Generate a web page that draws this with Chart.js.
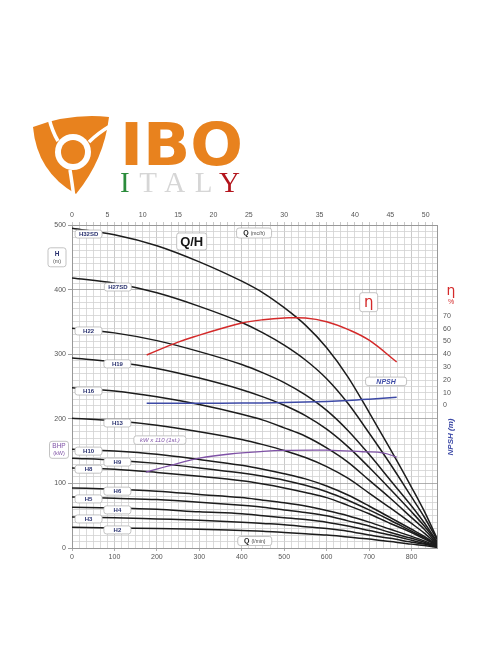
<!DOCTYPE html>
<html>
<head>
<meta charset="utf-8">
<script src="https://cdn.jsdelivr.net/npm/chart.js@4.4.1/dist/chart.umd.min.js"></script>
<style>
html, body { margin: 0; padding: 0; background: #fff; }
#wrap { position: relative; width: 496px; height: 664px; }
#pumpChart, #logo { position: absolute; left: 0; top: 0; }
</style>
</head>
<body>
<div id="wrap">
<canvas id="pumpChart" width="496" height="664"></canvas>
<svg id="logo" width="496" height="205" xmlns="http://www.w3.org/2000/svg">
  <!-- swirl mark -->
  <path d="M33,127 Q70,113 109,117 Q104,160 76,194 Q37,172 33,127 Z" fill="#e8821e"/>
  <circle cx="73" cy="152" r="18" fill="#fff"/>
  <circle cx="73" cy="152" r="12" fill="#e8821e"/>
  <path d="M58,141 Q52,131 49,118" stroke="#fff" stroke-width="3.5" fill="none"/>
  <path d="M89,142 Q98,133 110,126" stroke="#fff" stroke-width="3.5" fill="none"/>
  <path d="M70,170 Q72,182 74,198" stroke="#fff" stroke-width="3.5" fill="none"/>
  <text x="120" y="165" font-family="'DejaVu Sans Condensed','DejaVu Sans',sans-serif" font-weight="bold" font-size="58" fill="#e8821e" textLength="123" lengthAdjust="spacingAndGlyphs">IBO</text>
  <text x="120" y="192" font-family="'Liberation Serif',serif" font-size="29" textLength="120" lengthAdjust="spacing"><tspan fill="#2b8c3c">I</tspan><tspan fill="#d6d6d6">TAL</tspan><tspan fill="#b3141c">Y</tspan></text>
</svg>
</div>
<script>
const flowLpm = [0, 100, 200, 300, 400, 450, 500, 550, 600, 650, 700, 750, 800, 830, 860];

const models = ['H32SD', 'H27SD', 'H22', 'H19', 'H16', 'H13', 'H10', 'H9', 'H8', 'H6', 'H5', 'H4', 'H3', 'H2'];
const headH32SD = [495, 485, 468, 443, 413, 395, 372, 345, 310, 265, 210, 153, 94, 57, 15];
const headH27SD = [418, 410, 395, 374, 349, 333, 314, 291, 262, 224, 178, 130, 79, 48, 13];
const headH22   = [340, 333, 321, 304, 284, 271, 256, 237, 213, 182, 145, 105, 65, 39, 10];
const headH19   = [294, 288, 278, 263, 245, 234, 221, 205, 184, 157, 125, 91, 56, 34, 9];
const headH16   = [248, 243, 234, 222, 207, 198, 186, 173, 155, 133, 105, 77, 47, 29, 7];
const headH13   = [201, 197, 190, 180, 168, 160, 151, 140, 126, 108, 85, 62, 38, 23, 6];
const headH10   = [153, 150, 145, 137, 128, 122, 115, 107, 96, 82, 65, 47, 29, 18, 5];
const headH9    = [139, 136, 131, 124, 116, 111, 105, 97, 87, 74, 59, 43, 26, 16, 4];
const headH8    = [124, 122, 117, 111, 104, 99, 93, 86, 78, 66, 53, 38, 24, 14, 4];
const headH6    = [93, 91, 88, 83, 78, 74, 70, 65, 58, 50, 40, 29, 18, 11, 3];
const headH5    = [79, 77, 75, 71, 66, 63, 59, 55, 50, 42, 34, 24, 15, 9, 2];
const headH4    = [63, 62, 60, 56, 53, 50, 47, 44, 40, 34, 27, 20, 12, 7, 2];
const headH3    = [48, 47, 45, 43, 40, 38, 36, 33, 30, 26, 20, 15, 9, 6, 1];
const headH2    = [32, 31, 30, 29, 27, 26, 24, 22, 20, 17, 14, 10, 6, 4, 1];
const heads = [headH32SD, headH27SD, headH22, headH19, headH16, headH13, headH10,
               headH9, headH8, headH6, headH5, headH4, headH3, headH2];

// efficiency %, right scale
const effFlow = [176, 250, 300, 350, 400, 450, 500, 550, 600, 650, 700, 765];
const effPct  = [39.5, 49.5, 55, 60, 64.5, 67, 68.3, 68.4, 65.5, 59.5, 51, 34];

// NPSH (m), right scale
const npshFlow = [176, 300, 400, 500, 600, 650, 700, 765];
const npshM    = [1.8, 1.8, 1.9, 2.3, 3.2, 3.9, 4.9, 6.4];

// power, kW x 110 (1st.), drawn on the head scale
const bhpFlow  = [174, 250, 300, 372, 450, 500, 600, 685, 735, 765];
const bhpKw110 = [117.6, 131, 139, 145.5, 149.5, 151, 151.5, 149, 147, 140.5];

// where the model tags sit [Q l/min, H m]
const tagSpots = [[39, 486], [108, 404], [39, 336], [107, 285], [39, 243], [107, 193.5], [39, 150],
                  [107, 133], [39, 122], [107, 88], [39, 76], [107, 59], [39, 45], [107, 28]];

const FONT = '"Liberation Sans", Arial, sans-serif';
const NAVY = '#2a3270', RED = '#d42a2a', BLUE = '#3d4aa6', PURPLE = '#7f52a6';

function pts(xs, ys) {
    return xs.map((q, i) => ({ x: q, y: ys[i] }));
}

function box(ctx, cx, cy, w, h) {
    ctx.beginPath();
    ctx.roundRect(cx - w / 2, cy - h / 2, w, h, 2.5);
    ctx.fillStyle = '#fff';
    ctx.fill();
    ctx.strokeStyle = '#b4b4b4';
    ctx.lineWidth = 0.8;
    ctx.stroke();
}

function runs(ctx, cx, cy, parts) {
    let total = 0;
    parts.forEach(p => { ctx.font = p.f; total += ctx.measureText(p.t).width; });
    let x = cx - total / 2;
    ctx.textAlign = 'left';
    ctx.textBaseline = 'middle';
    parts.forEach(p => {
        ctx.font = p.f;
        ctx.fillStyle = p.c;
        ctx.fillText(p.t, x, cy);
        x += ctx.measureText(p.t).width;
    });
}

const tagPlugin = {
    id: 'tags',
    afterDatasetsDraw(chart) {
        const { ctx, chartArea, scales } = chart;
        const { x, y, y2 } = scales;
        ctx.save();

        models.forEach((name, i) => {
            const cx = x.getPixelForValue(tagSpots[i][0]);
            const cy = y.getPixelForValue(tagSpots[i][1]);
            box(ctx, cx, cy, 27, 8);
            runs(ctx, cx, cy + 0.3, [{ t: name, f: 'bold 6px ' + FONT, c: NAVY }]);
        });

        let cx = x.getPixelForValue(282), cy = y.getPixelForValue(474.5);
        box(ctx, cx, cy, 30, 17);
        runs(ctx, cx, cy + 0.5, [{ t: 'Q/H', f: 'bold 13px ' + FONT, c: '#151515' }]);

        cx = x.getPixelForValue(429); cy = y.getPixelForValue(487.6);
        box(ctx, cx, cy, 35, 10);
        runs(ctx, cx, cy + 0.3, [{ t: 'Q ', f: 'bold 7px ' + FONT, c: '#222' }, { t: '(mc/h)', f: '5px ' + FONT, c: '#444' }]);

        cx = x.getPixelForValue(699); cy = y.getPixelForValue(380.5);
        box(ctx, cx, cy, 18, 19);
        runs(ctx, cx, cy + 1, [{ t: 'η', f: '15px "DejaVu Sans", sans-serif', c: RED }]);

        cx = x.getPixelForValue(740); cy = y.getPixelForValue(258);
        box(ctx, cx, cy, 41, 8.5);
        runs(ctx, cx, cy + 0.3, [{ t: 'NPSH', f: 'italic bold 7px ' + FONT, c: BLUE }]);

        cx = x.getPixelForValue(207); cy = y.getPixelForValue(167);
        box(ctx, cx, cy, 52, 8.5);
        runs(ctx, cx, cy + 0.3, [{ t: 'kW x 110 (1st.)', f: 'italic 6px ' + FONT, c: PURPLE }]);

        cx = x.getPixelForValue(430.6); cy = y.getPixelForValue(10.8);
        box(ctx, cx, cy, 34, 9);
        runs(ctx, cx, cy + 0.3, [{ t: 'Q ', f: 'bold 7px ' + FONT, c: '#222' }, { t: '(l/min)', f: '5px ' + FONT, c: '#444' }]);

        // left side axis captions
        cx = chartArea.left - 15; cy = y.getPixelForValue(450);
        box(ctx, cx, cy, 18, 19);
        runs(ctx, cx, cy - 3.5, [{ t: 'H', f: 'bold 6.5px ' + FONT, c: NAVY }]);
        runs(ctx, cx, cy + 4, [{ t: '(m)', f: '5.5px ' + FONT, c: '#555' }]);

        cx = chartArea.left - 13; cy = y.getPixelForValue(152);
        box(ctx, cx, cy, 19, 17);
        runs(ctx, cx, cy - 3.3, [{ t: 'BHP', f: '6.5px ' + FONT, c: PURPLE }]);
        runs(ctx, cx, cy + 3.8, [{ t: '(kW)', f: '5.5px ' + FONT, c: PURPLE }]);

        // right side captions
        cx = chartArea.right + 14;
        runs(ctx, cx, y2.getPixelForValue(89), [{ t: 'η', f: '14px "DejaVu Sans", sans-serif', c: RED }]);
        runs(ctx, cx, y2.getPixelForValue(81), [{ t: '%', f: '7px ' + FONT, c: RED }]);
        ctx.translate(cx, y2.getPixelForValue(-24.6));
        ctx.rotate(-Math.PI / 2);
        runs(ctx, 0, 0, [{ t: 'NPSH (m)', f: 'italic bold 8px ' + FONT, c: BLUE }]);

        ctx.restore();
    }
};

const tickFont = { family: FONT, size: 7 };
const curveSets = models.map((name, i) => ({
    label: name,
    data: pts(flowLpm, heads[i]),
    borderColor: '#1c1c1c',
    borderWidth: 1.5,
    cubicInterpolationMode: 'monotone',
    xAxisID: 'x',
    yAxisID: 'y'
}));

new Chart(document.getElementById('pumpChart'), {
    type: 'line',
    data: {
        datasets: [
            { label: 'η', data: pts(effFlow, effPct), borderColor: RED, borderWidth: 1.5, tension: 0.4, xAxisID: 'x', yAxisID: 'y2' },
            { label: 'NPSH', data: pts(npshFlow, npshM), borderColor: BLUE, borderWidth: 1.5, tension: 0.4, xAxisID: 'x', yAxisID: 'y2' },
            { label: 'BHP', data: pts(bhpFlow, bhpKw110), borderColor: PURPLE, borderWidth: 1.3, tension: 0.4, xAxisID: 'x', yAxisID: 'y' },
            ...curveSets
        ]
    },
    options: {
        responsive: false,
        animation: false,
        events: [],
        layout: { padding: 0 },
        elements: { point: { radius: 0 } },
        plugins: { legend: { display: false }, tooltip: { enabled: false } },
        scales: {
            x: {
                type: 'linear', position: 'bottom', min: 0, max: 860,
                afterFit: s => { s.height = 116; },
                ticks: { stepSize: 100, includeBounds: false, maxRotation: 0, padding: 2, color: '#555', font: tickFont },
                grid: { color: '#9c9c9c', lineWidth: 0.8, tickLength: 3, tickColor: '#999' },
                border: { color: '#999' }
            },
            x2: {
                type: 'linear', position: 'top', min: 0, max: 860 / 16.667,
                afterFit: s => { s.height = 225; },
                ticks: {
                    stepSize: 1, includeBounds: false, autoSkip: false, maxRotation: 0, padding: 3,
                    color: '#555', font: tickFont,
                    callback: v => (v % 5 === 0 ? v : '')
                },
                grid: { color: '#d2d2d2', lineWidth: 0.8, tickLength: 3, tickColor: '#bbb' },
                border: { color: '#999' }
            },
            y: {
                type: 'linear', position: 'left', min: 0, max: 500,
                afterFit: s => { s.width = 72; },
                ticks: {
                    stepSize: 10, autoSkip: false, padding: 2, color: '#555', font: tickFont,
                    callback: v => (v % 100 === 0 ? v : '')
                },
                grid: {
                    lineWidth: 0.8, tickLength: 4,
                    color: c => (c.tick.value % 100 === 0 ? '#9c9c9c' : '#d2d2d2'),
                    tickColor: c => (c.tick.value % 100 === 0 ? '#888' : 'rgba(0,0,0,0)')
                },
                border: { color: '#999' }
            },
            y2: {
                type: 'linear', position: 'right', min: -111.3, max: 141,
                afterFit: s => { s.width = 59; },
                ticks: {
                    stepSize: 10, autoSkip: false, padding: 6, color: '#555', font: tickFont,
                    callback: v => (v >= 0 && v <= 70 ? v : '')
                },
                grid: { drawOnChartArea: false, drawTicks: false },
                border: { color: '#999' }
            }
        }
    },
    plugins: [tagPlugin]
});
</script>
</body>
</html>
